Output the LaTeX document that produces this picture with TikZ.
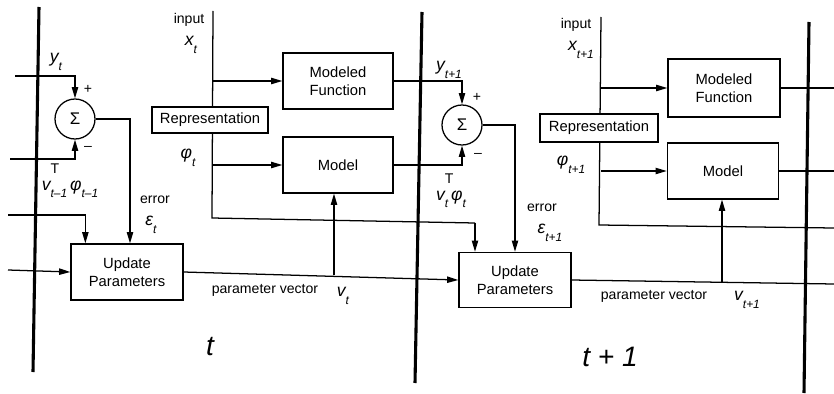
\documentclass[tikz,border=0pt]{standalone}
\usepackage{fontspec}
\setmainfont{Liberation Sans}
\usetikzlibrary{arrows.meta,calc}

\newcommand{\sub}[2]{{\itshape #1}\raisebox{-0.8ex}{\fontsize{8.5}{9}\selectfont\itshape #2}}
\tikzset{
  barline/.style={line width=2.2pt},
  wire/.style={line width=0.9pt},
  arr/.style={wire,-{Triangle[length=8pt,width=4.5pt]}},
  block/.style={draw,line width=0.9pt,fill=white,align=center,inner sep=1pt,
    font=\fontsize{10.5}{12.5}\selectfont},
  sumnode/.style={draw,circle,line width=0.9pt,fill=white,minimum size=1cm,inner sep=0pt,
    font=\fontsize{12}{14}\selectfont},
  lbl/.style={inner sep=0pt,font=\fontsize{10}{12}\selectfont},
  var/.style={inner sep=0pt,font=\fontsize{12.5}{14}\selectfont},
  stamp/.style={inner sep=0pt,font=\fontsize{20}{24}\selectfont\itshape}
}

\begin{document}
\begin{tikzpicture}[x=0.025cm,y=-0.025cm]
  \useasboundingbox (0,0) rectangle (834,394);

  % time step borders
  \draw[barline] (39,7) -- (33,372);
  \draw[barline] (422,12) -- (415,383);
  \draw[barline] (809,22) -- (804,393);

  % blocks
  \node[sumnode] (sumA) at (75,119) {Σ};
  \node[sumnode] (sumB) at (462,125) {Σ};
  \node[block,minimum width=2.8cm,minimum height=1.4cm] (updA) at (127,272) {Update\\Parameters};
  \node[block,minimum width=2.8cm,minimum height=1.38cm] (updB) at (515,280) {Update\\Parameters};
  \node[block,minimum width=2.75cm,minimum height=1.4cm] (modfA) at (338,81) {Modeled\\Function};
  \node[block,minimum width=2.75cm,minimum height=1.4cm] (modelA) at (338,165) {Model};
  \node[block,minimum width=2.8cm,minimum height=1.45cm] (modfB) at (724,88) {Modeled\\Function};
  \node[block,minimum width=2.78cm,minimum height=1.4cm] (modelB) at (723,171) {Model};

  \coordinate (inA) at (213,11);
  \coordinate (inAend) at (212,218);
  \coordinate (tapB) at (475,223);
  \coordinate (inB) at (601,17);
  \coordinate (inBend) at (599,225);
  \coordinate (outC) at (834,228);
  \coordinate (yA) at (15,76);
  \coordinate (vA) at (10,159);
  \coordinate (phiA) at (8,215);
  \coordinate (vprev) at (8,270);
  \coordinate (tapA) at (334,275);
  \coordinate (outB) at (834,284);
  \coordinate (tapC) at (722,283);

  % step t
  \draw[arr] (yA) -| (sumA.north);
  \draw[arr] (vA) -| (sumA.south);
  \draw[arr] (sumA.east) -| ($(updA.north)+(3,0)$);
  \draw[arr] (phiA) -| ($(updA.north west)+(15,0)$);
  \draw[arr] (vprev) -- (updA.west);
  \draw[wire] (inA) -- (inAend) -- (tapB);
  \draw[arr] (tapB) -- (tapB |- updB.north);
  \draw[arr] (modfA.west -| inA) -- (modfA.west);
  \draw[arr] (modelA.west -| inA) -- (modelA.west);
  \draw[arr] (updA.east) -- (updB.west);
  \draw[arr] (tapA) -- (tapA |- modelA.south);

  % step t+1
  \draw[arr] (modfA.east) -| (sumB.north);
  \draw[arr] (modelA.east) -| (sumB.south);
  \draw[arr] (sumB.east) -| (updB.north);
  \draw[wire] (inB) -- (inBend) -- (outC);
  \draw[arr] (modfB.west -| inB) -- (modfB.west);
  \draw[arr] (modelB.west -| inB) -- (modelB.west);
  \draw[wire] (modfB.east) -- (modfB.east -| outC);
  \draw[wire] (modelB.east) -- (modelB.east -| outC);
  \draw[wire] (updB.east) -- (outB);
  \draw[arr] (tapC) -- (tapC |- modelB.south);

  \node[block,minimum width=2.9cm,minimum height=0.65cm] (repA) at (210,120) {Representation};
  \node[block,minimum width=2.95cm,minimum height=0.7cm] (repB) at (599,128) {Representation};

  % labels
  \node[lbl] (inputA) at (189,20) {input};
  \node[var] (xA) at (191,45) {\sub{x}{t}};
  \node[var] (phiAlbl) at (188,158) {\sub{φ}{t}};
  \node[var] (yAlbl) at (56,62) {\sub{y}{t}};
  \node[lbl] (plusA) at (88,89) {+};
  \node[lbl] (minusA) at (88,148) {–};
  \node[var] (vphiA) at (70,181) {{\itshape v}\rlap{\raisebox{1.8ex}{\fontsize{10}{12}\selectfont T}}\raisebox{-0.8ex}{\fontsize{8.5}{9}\selectfont\itshape t–1}\,\sub{φ}{t–1}};
  \node[lbl] (errA) at (155,200) {error};
  \node[var] (epsA) at (151,225) {\sub{ε}{t}};
  \node[lbl] (pvA) at (265,290) {parameter vector};
  \node[var] (vAlbl) at (343,296) {\sub{v}{t}};
  \node[var] (yBlbl) at (449,70) {\sub{y}{t+1}};
  \node[lbl] (plusB) at (477,97) {+};
  \node[lbl] (minusB) at (478,155) {–};
  \node[var] (vphiB) at (451,191) {{\itshape v}\rlap{\raisebox{1.8ex}{\fontsize{10}{12}\selectfont T}}\raisebox{-0.8ex}{\fontsize{8.5}{9}\selectfont\itshape t}\,\sub{φ}{t}};
  \node[lbl] (errB) at (542,208) {error};
  \node[var] (epsB) at (550,233) {\sub{ε}{t+1}};
  \node[lbl] (inputB) at (576,25) {input};
  \node[var] (xB) at (581,50) {\sub{x}{t+1}};
  \node[var] (phiBlbl) at (571,165) {\sub{φ}{t+1}};
  \node[lbl] (pvB) at (654,296) {parameter vector};
  \node[var] (vBlbl) at (747,300) {\sub{v}{t+1}};
  \node[stamp] (stepA) at (210,347) {t};
  \node[stamp] (stepB) at (610,357) {t + 1};
\end{tikzpicture}
\end{document}
